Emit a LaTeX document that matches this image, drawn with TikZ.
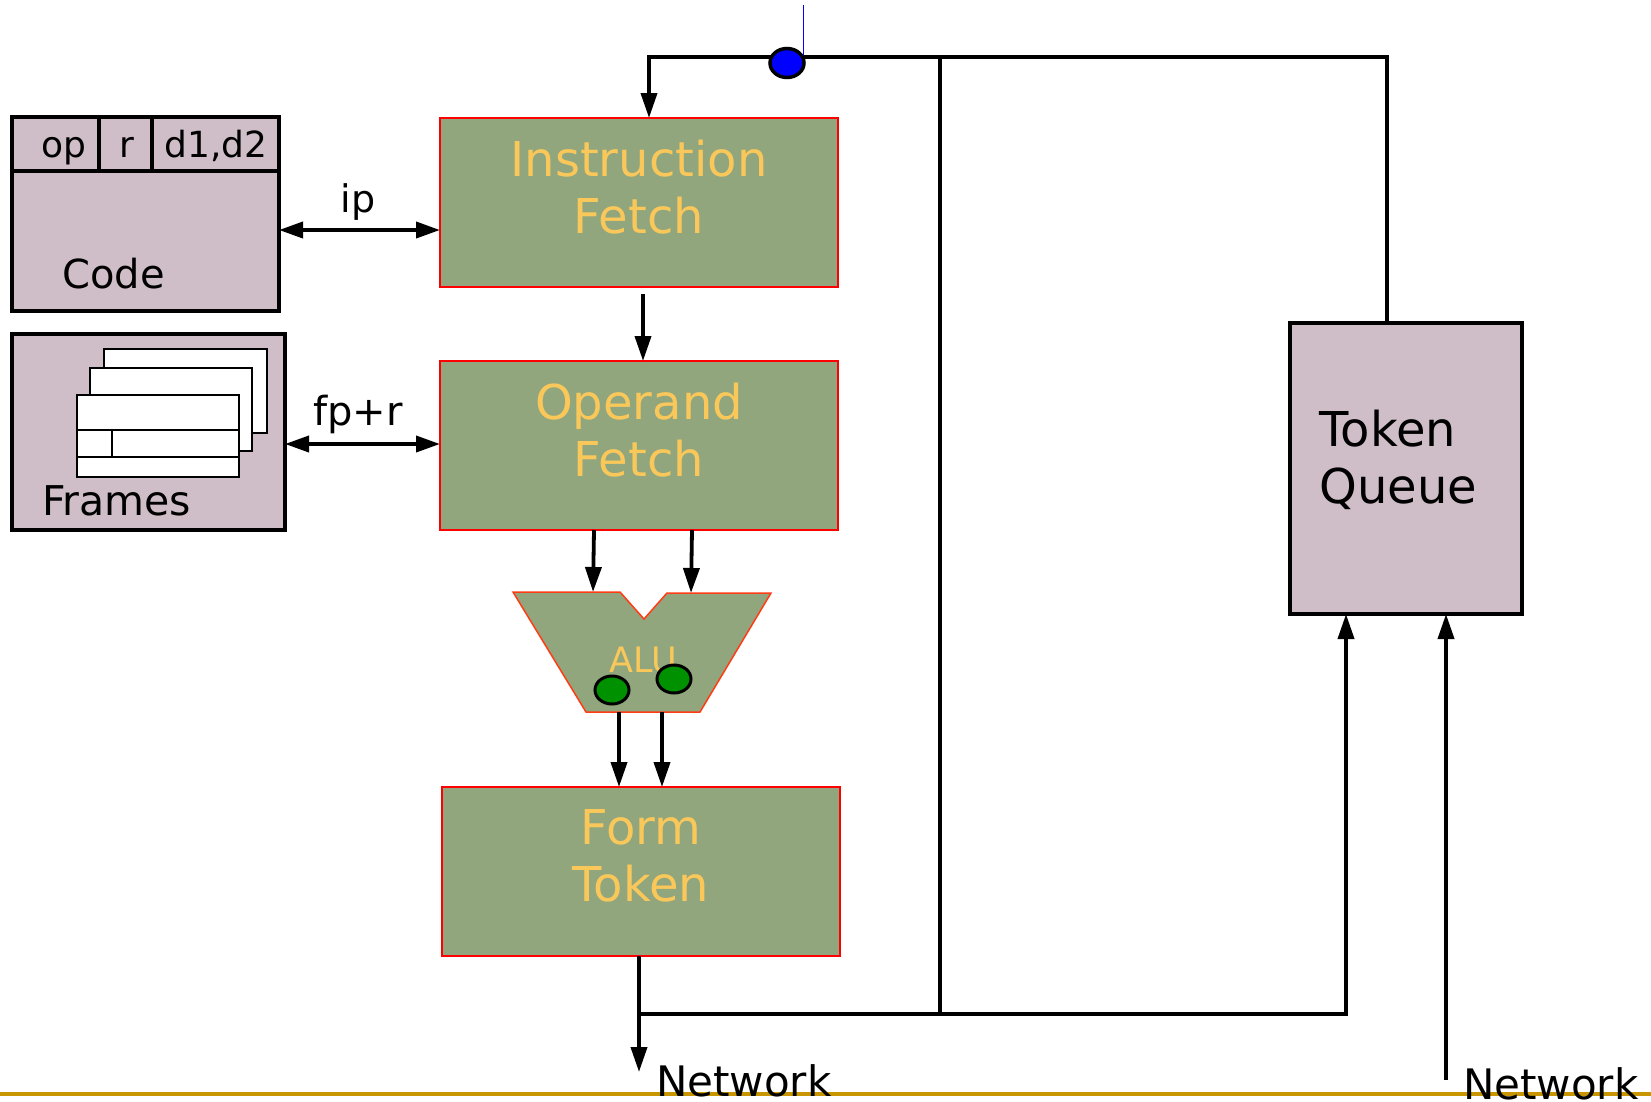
\documentclass[tikz,border=0pt]{standalone}
\usepackage{fontspec}
\setmainfont{DejaVu Sans}
\usetikzlibrary{arrows.meta,calc,shapes.geometric}
\definecolor{boxgreen}{RGB}{145,166,125}
\definecolor{mauve}{RGB}{207,190,200}
\definecolor{ytext}{RGB}{250,200,90}
\definecolor{gold}{RGB}{200,150,0}
\definecolor{aluedge}{RGB}{255,60,20}
\definecolor{dotgreen}{RGB}{0,145,0}
\begin{document}
\begin{tikzpicture}[x=1pt,y=-1pt,
  stage/.style={draw=red,line width=2.5pt,fill=boxgreen,minimum width=398pt,minimum height=169pt,anchor=north west,inner sep=0pt,outer sep=0pt},
  store/.style={draw=black,line width=4pt,fill=mauve,anchor=north west,inner sep=0pt,outer sep=0pt},
  ylab/.style={text=ytext,font=\fontsize{48}{57}\selectfont,align=center},
  blab/.style={text=black,font=\fontsize{42}{50}\selectfont},
  wire/.style={line width=3.8pt,draw=black},
  arr/.style={wire,-{Triangle[length=25pt,width=16pt]}},
  darr/.style={wire,{Triangle[length=24pt,width=16pt]}-{Triangle[length=24pt,width=16pt]}},
  sheet/.style={draw=black,line width=2.5pt,fill=white}]
\useasboundingbox (0,0) rectangle (1651,1101);
% gold base line
\draw[gold,line width=4pt] (0,1094) -- (1651,1094);
% Code store
\node[store,minimum width=267pt,minimum height=194pt] (code) at (12,117) {};
\draw[line width=3.5pt] (12,171) -- (279,171);
\draw[line width=3.5pt] (99,117) -- (99,171);
\draw[line width=3.5pt] (152,117) -- (152,171);
\node[font=\fontsize{36}{40}\selectfont,anchor=base] (op) at (64,157) {op};
\node[font=\fontsize{36}{40}\selectfont,anchor=base] (rr) at (127,157) {r};
\node[font=\fontsize{36}{40}\selectfont,anchor=base] (dd) at (216,157) {d1,d2};
\node[font=\fontsize{40}{46}\selectfont,anchor=base west,inner sep=0pt] (codelab) at (62,288) {Code};
% Frames store
\node[store,minimum width=273pt,minimum height=196pt] (frames) at (12,334) {};
\draw[sheet] (104,349) rectangle (267,433);
\draw[sheet] (90,368) rectangle (252,451);
\draw[sheet] (77,395) rectangle (239,477);
\draw[line width=2.5pt] (77,430) -- (239,430);
\draw[line width=2.5pt] (77,457) -- (239,457);
\draw[line width=2.5pt] (112,430) -- (112,457);
\node[font=\fontsize{41}{46}\selectfont,anchor=base west,inner sep=0pt] (frameslab) at (42,515) {Frames};
% stages
\node[stage] (IF) at (440,118) {};
\node[ylab] (IFt) at (639,187) {Instruction\\Fetch};
\node[stage] (OF) at (440,361) {};
\node[ylab] (OFt) at (639,430) {Operand\\Fetch};
\node[stage] (FT) at (442,787) {};
\node[ylab] (FTt) at (641,856) {Form\\Token};
% Token queue
\node[store,minimum width=232pt,minimum height=291pt] (TQ) at (1290,323) {};
\node[blab,font=\fontsize{48}{57}\selectfont,align=left,anchor=west] (TQt) at (1316,460) {Token\\Queue};
% ALU
\draw[aluedge,line width=1.5pt,fill=boxgreen] (513,592) -- (620,592) -- (644,619) -- (667,593) -- (771,593) -- (700,712) -- (586,712) -- cycle;
\node[text=ytext,font=\fontsize{35}{40}\selectfont] (alu) at (643,660) {ALU};
\node[draw=black,line width=3pt,fill=dotgreen,ellipse,minimum width=34pt,minimum height=28pt,inner sep=0pt] (g1) at (612,690) {};
\node[draw=black,line width=3pt,fill=dotgreen,ellipse,minimum width=34pt,minimum height=28pt,inner sep=0pt] (g2) at (674,679) {};
% coordinates
\coordinate (ipy) at (0,230);
\coordinate (fpy) at (0,444);
\coordinate (aluL) at (593,592);
\coordinate (aluR) at (691,593);
\coordinate (aluoL) at (619,712);
\coordinate (aluoR) at (662,712);
\coordinate (topL) at (649,57);
\coordinate (topR) at (1387,57);
\coordinate (busTop) at (940,57);
\coordinate (busBot) at (940,1014);
\coordinate (ftJ) at (639,1014);
\coordinate (ftOut) at (639,1072);
\coordinate (tqInL) at (1346,1014);
\coordinate (netIn) at (1446,1080);
\coordinate (blueTop) at (803,5);
\coordinate (blueBot) at (803,57);
% connectors
\draw[darr] (code.east |- ipy) -- (IF.west |- ipy);
\node[blab,font=\fontsize{38}{44}\selectfont] (iplab) at (358,202) {ip};
\draw[darr] (frames.east |- fpy) -- (OF.west |- fpy);
\node[blab,font=\fontsize{40}{46}\selectfont] (fplab) at (358,414) {fp+r};
\draw[arr] ($(IF.south)+(4,7)$) -- (OF.north -| 643,0);
\draw[arr] (OF.south -| 594,0) -- (aluL);
\draw[arr] (OF.south -| 692,0) -- (aluR);
\draw[arr] (aluoL) -- (FT.north -| aluoL);
\draw[arr] (aluoR) -- (FT.north -| aluoR);
\draw[arr] (FT.south -| ftJ) -- (ftOut);
\draw[arr] (ftJ) -- (tqInL) -- (TQ.south -| tqInL);
\draw[wire] (busBot) -- (busTop);
\draw[arr] (TQ.north -| topR) -- (topR) -- (topL) -- (IF.north -| topL);
\draw[arr] (netIn) -- (TQ.south -| netIn);
\draw[blue,line width=1pt] (blueTop) -- (blueBot);
\node[draw=black,line width=3.5pt,fill=blue,ellipse,minimum width=34pt,minimum height=29pt,inner sep=0pt] (bluedot) at (787,63) {};
% network labels
\node[blab,anchor=base west,inner sep=0pt] (net1) at (656,1096) {Network};
\node[blab,anchor=base west,inner sep=0pt] (net2) at (1463,1099) {Network};
\end{tikzpicture}
\end{document}
